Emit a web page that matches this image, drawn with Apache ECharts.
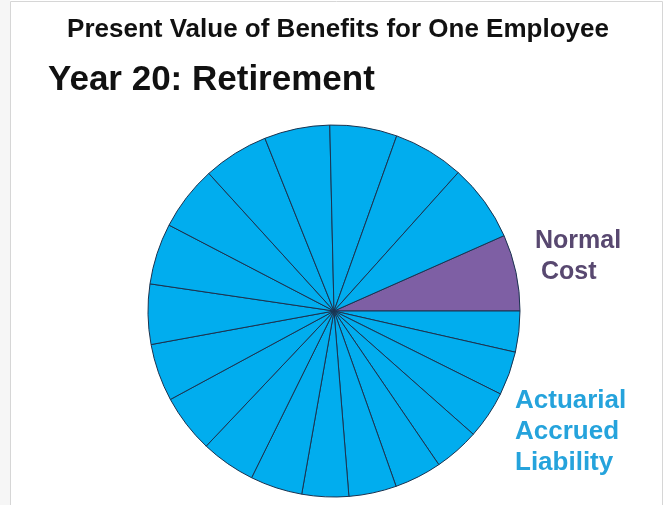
<!DOCTYPE html>
<html>
<head>
<meta charset="utf-8">
<title>Present Value of Benefits for One Employee</title>
<script src="https://cdn.jsdelivr.net/npm/echarts@6/dist/echarts.min.js"></script>
<style>
  html, body { margin: 0; padding: 0; background: #ffffff; }
  #chart { width: 666px; height: 505px; }
</style>
</head>
<body>
<div id="chart"></div>
<script>
// Share of the present value of benefits, one slice per year of service.
// The current year's accrual (normal cost) comes first; the earlier years
// follow clockwise, from year 1 up to year 19.
const normalCostLabel = 'Normal Cost';
const normalCostValue = 23.9;
const accruedYears = ['Year 1', 'Year 2', 'Year 3', 'Year 4', 'Year 5', 'Year 6', 'Year 7',
  'Year 8', 'Year 9', 'Year 10', 'Year 11', 'Year 12', 'Year 13', 'Year 14', 'Year 15',
  'Year 16', 'Year 17', 'Year 18', 'Year 19'];
const accruedValues = [12.8, 13.7, 15.0, 14.2, 14.8, 14.9, 14.6, 16.3, 17.1, 18.2,
  18.0, 18.8, 19.1, 20.2, 20.5, 20.5, 21.0, 22.2, 24.2];

const titleText = 'Present Value of Benefits for One Employee';
const subtitleText = 'Year 20: Retirement';
const normalCostLines = ['Normal', 'Cost'];
const liabilityLines = ['Actuarial', 'Accrued', 'Liability'];

const BLUE = '#01adee';
const PURPLE = '#7e5fa4';
const EDGE = '#1b3350';
const FONT = '"Liberation Sans", Arial, Helvetica, sans-serif';

const pieData = [{ name: normalCostLabel, value: normalCostValue, itemStyle: { color: PURPLE } }]
  .concat(accruedYears.map((n, i) => ({ name: n, value: accruedValues[i], itemStyle: { color: BLUE } })));

function textEl(text, x, y, size, color, align) {
  return {
    type: 'text',
    silent: true,
    style: {
      text: text, x: x, y: y,
      font: 'bold ' + size + 'px ' + FONT,
      fill: color,
      textAlign: align || 'left',
      textVerticalAlign: 'middle'
    }
  };
}

const graphics = [
  { type: 'rect', silent: true, z: -10, shape: { x: 0, y: 0, width: 10, height: 505 }, style: { fill: '#f6f6f6' } },
  { type: 'rect', silent: true, z: -10, shape: { x: 10.5, y: 1.5, width: 652, height: 510 }, style: { fill: 'none', stroke: '#d6d6d6', lineWidth: 1 } },
  textEl(titleText, 338, 30, 26, '#111111', 'center'),
  textEl(subtitleText, 48, 80, 35, '#111111', 'left'),
  textEl(normalCostLines[0], 535, 241, 25, '#584870', 'left'),
  textEl(normalCostLines[1], 541, 272, 25, '#584870', 'left')
];
liabilityLines.forEach((t, i) => {
  graphics.push(textEl(t, 515, 401 + i * 31, 26, '#25a3dc', 'left'));
});

const chart = echarts.init(document.getElementById('chart'), null, { renderer: 'canvas' });
chart.setOption({
  backgroundColor: '#ffffff',
  animation: false,
  graphic: graphics,
  series: [{
    type: 'pie',
    center: [334, 311],
    radius: [0, 186],
    startAngle: 23.9,
    clockwise: true,
    avoidLabelOverlap: false,
    label: { show: false },
    labelLine: { show: false },
    emphasis: { disabled: true },
    itemStyle: { borderColor: EDGE, borderWidth: 1 },
    data: pieData
  }]
});
</script>
</body>
</html>
